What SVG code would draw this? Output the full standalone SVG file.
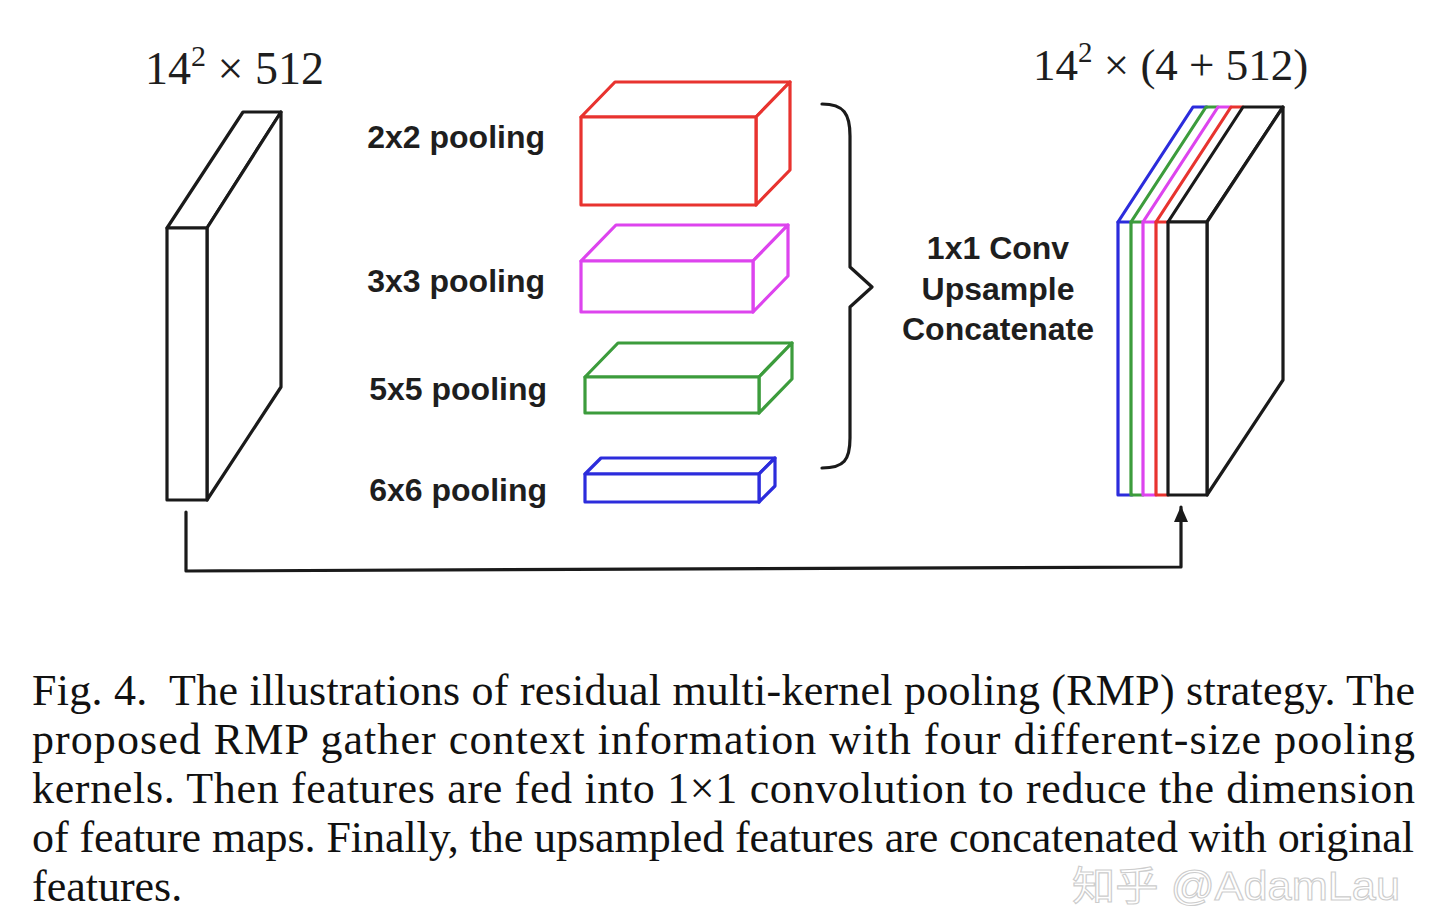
<svg xmlns="http://www.w3.org/2000/svg" width="1440" height="918" viewBox="0 0 1440 918">
<defs>
<style>
.blk{fill:#fff;stroke:#1a1a1a;stroke-width:3.2;stroke-linejoin:round}
.ln{fill:none;stroke-width:3.2;stroke-linejoin:round;stroke-linecap:round}
.box{fill:#fff;stroke-width:3.2;stroke-linejoin:round}
.lab{font-family:"Liberation Sans",Arial,sans-serif;font-weight:bold;font-size:32px;fill:#1e1e1e}
.ser{font-family:"Liberation Serif","Times New Roman",serif;fill:#1e1e1e}
.cap{font-family:"Liberation Serif","Times New Roman",serif;font-size:44px;fill:#111}
</style>
<marker id="ah" viewBox="0 0 16 14" refX="15" refY="7" markerWidth="16" markerHeight="14" markerUnits="userSpaceOnUse" orient="auto">
<path d="M0,0 L16,7 L0,14 Z" fill="#1a1a1a"/>
</marker>
</defs>
<rect width="1440" height="918" fill="#fff"/>

<g id="input-title">
<text class="ser" x="145" y="84" font-size="46">14<tspan font-size="30" dy="-18">2</tspan><tspan dy="18"> × 512</tspan></text>
</g>

<g id="input-block">
<polygon class="blk" points="167,228 243,112 281,112 207,228"/>
<polygon class="blk" points="207,228 281,112 281,387 207,500"/>
<rect class="blk" x="167" y="228" width="40" height="272"/>
</g>

<g id="pool-2x2">
<text class="lab" x="545" y="148" text-anchor="end">2x2 pooling</text>
<g stroke="#e8332f">
<polygon class="box" points="581,117 615,82 790,82 756,117"/>
<polygon class="box" points="756,117 790,82 790,170 756,205"/>
<rect class="box" x="581" y="117" width="175" height="88"/>
</g>
</g>

<g id="pool-3x3">
<text class="lab" x="545" y="292" text-anchor="end">3x3 pooling</text>
<g stroke="#dd44ee">
<polygon class="box" points="581,261 616,225 788,225 753,261"/>
<polygon class="box" points="753,261 788,225 788,276 753,312"/>
<rect class="box" x="581" y="261" width="172" height="51"/>
</g>
</g>

<g id="pool-5x5">
<text class="lab" x="547" y="400" text-anchor="end">5x5 pooling</text>
<g stroke="#3c9c3c">
<polygon class="box" points="585,377 618,343 792,343 759,377"/>
<polygon class="box" points="759,377 792,343 792,379 759,413"/>
<rect class="box" x="585" y="377" width="174" height="36"/>
</g>
</g>

<g id="pool-6x6">
<text class="lab" x="547" y="501" text-anchor="end">6x6 pooling</text>
<g stroke="#2c2cdc">
<polygon class="box" points="585,474 601,458 775,458 759,474"/>
<polygon class="box" points="759,474 775,458 775,486 759,502"/>
<rect class="box" x="585" y="474" width="174" height="28"/>
</g>
</g>

<g id="brace">
<path class="ln" stroke="#1a1a1a" d="M822,104 C844,104 850,114 850,136 L850,267 L872,287 L850,307 L850,438 C850,460 844,468 822,468"/>
</g>

<g id="op-label">
<text class="lab" x="998" y="259" text-anchor="middle">1x1 Conv</text>
<text class="lab" x="998" y="300" text-anchor="middle">Upsample</text>
<text class="lab" x="998" y="340" text-anchor="middle">Concatenate</text>
</g>

<g id="output-title">
<text class="ser" x="1033" y="80" font-size="45">14<tspan font-size="29" dy="-18">2</tspan><tspan dy="18"> × (4 + 512)</tspan></text>
</g>

<g id="output-block">
<polyline class="ln" stroke="#2c2cdc" points="1132,495 1118,495 1118,222 1193,107 1207,107"/>
<line class="ln" stroke="#2c2cdc" x1="1118" y1="222" x2="1132" y2="222"/>
<polyline class="ln" stroke="#3c9c3c" points="1143,495 1131,495 1131,222 1206,107 1218,107"/>
<line class="ln" stroke="#3c9c3c" x1="1131" y1="222" x2="1143" y2="222"/>
<polyline class="ln" stroke="#dd44ee" points="1156,495 1143,495 1143,222 1218,107 1231,107"/>
<line class="ln" stroke="#dd44ee" x1="1143" y1="222" x2="1156" y2="222"/>
<polyline class="ln" stroke="#e8332f" points="1168,495 1156,495 1156,222 1231,107 1243,107"/>
<line class="ln" stroke="#e8332f" x1="1156" y1="222" x2="1168" y2="222"/>
<polygon class="blk" points="1168,222 1243,107 1283,107 1207,222"/>
<polygon class="blk" points="1207,222 1283,107 1283,380 1207,495"/>
<rect class="blk" x="1168" y="222" width="39" height="273"/>
</g>

<g id="connectors">
<path class="ln" stroke="#1a1a1a" d="M186,512 L186,571 L1181,567 L1181,507" marker-end="url(#ah)"/>
</g>

<g id="caption">
<text class="cap" x="32" y="705" textLength="1383" lengthAdjust="spacing" xml:space="preserve">Fig. 4.  The illustrations of residual multi-kernel pooling (RMP) strategy. The</text>
<text class="cap" x="32" y="754" textLength="1383" lengthAdjust="spacing">proposed RMP gather context information with four different-size pooling</text>
<text class="cap" x="32" y="803" textLength="1383" lengthAdjust="spacing">kernels. Then features are fed into 1×1 convolution to reduce the dimension</text>
<text class="cap" x="32" y="852" textLength="1382" lengthAdjust="spacing">of feature maps. Finally, the upsampled features are concatenated with original</text>
<text class="cap" x="32" y="901">features.</text>
</g>

<g id="watermark" opacity="0.5">
<text x="1072" y="900" font-family="'Liberation Sans','Noto Sans CJK SC',sans-serif" font-size="40" textLength="328" lengthAdjust="spacingAndGlyphs" fill="#fff" stroke="#9a9a9a" stroke-width="1.1">知乎 @AdamLau</text>
</g>
</svg>
